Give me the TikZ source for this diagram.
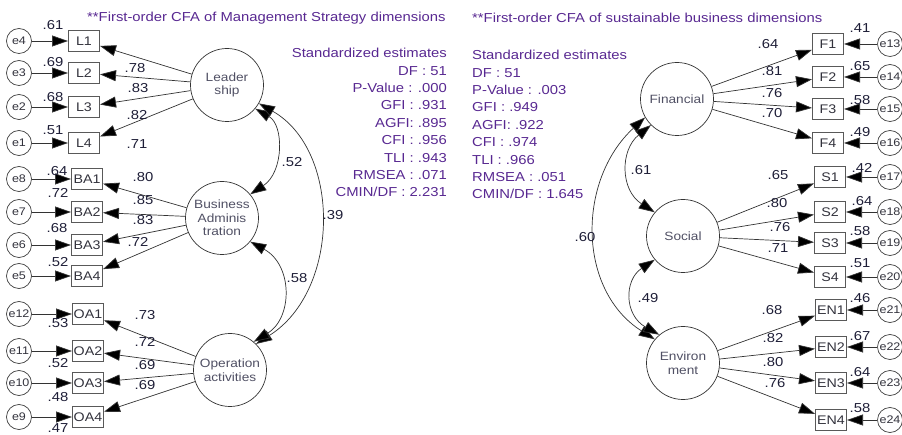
\documentclass[tikz,border=0pt]{standalone}
\usepackage{fontspec}
\setmainfont{Liberation Sans}[FakeStretch=1.14]
\usetikzlibrary{arrows.meta}
\definecolor{ttl}{RGB}{88,40,145}
\definecolor{numc}{RGB}{30,30,55}
\definecolor{latc}{RGB}{80,80,100}
\definecolor{obsc}{RGB}{50,50,60}
\begin{document}
\begin{tikzpicture}[x=1pt,y=-1pt,
  lat/.style={circle,draw=black!80,line width=0.7pt,minimum size=73pt,inner sep=0pt,align=center,font=\fontsize{12}{13.5}\selectfont,text=latc},
  obs/.style={rectangle,draw=black!65,line width=1pt,minimum width=31pt,minimum height=21pt,inner sep=1pt,font=\fontsize{12.5}{14}\selectfont,text=obsc},
  err/.style={circle,draw=black!75,line width=0.7pt,minimum size=25pt,inner sep=0pt,font=\fontsize{11}{12}\selectfont,text=obsc},
  ld/.style={-{Triangle[length=16pt,width=11pt,fill=black]},line width=0.7pt,draw=black!80},
  cov/.style={{Triangle[length=16pt,width=11pt,fill=black]}-{Triangle[length=16pt,width=11pt,fill=black]},line width=0.7pt,draw=black!80},
  num/.style={font=\fontsize{13}{14}\selectfont,text=numc,inner sep=0pt},
  ttlsty/.style={font=\fontsize{13}{17.4}\selectfont,text=ttl,inner sep=0pt}
]
\useasboundingbox (0,0) rectangle (902,435);

% ---------- titles & stats ----------
\node[ttlsty,anchor=west] (t1) at (87,18) {**First-order CFA of Management Strategy dimensions};
\node[ttlsty,anchor=west] (t2) at (472,18) {**First-order CFA of sustainable business dimensions};
\node[ttlsty,anchor=north east,align=right] (s1) at (447,48) {Standardized estimates\\DF : 51\\P-Value : .000\\GFI : .931\\AGFI: .895\\CFI : .956\\TLI : .943\\RMSEA : .071\\CMIN/DF : 2.231};
\node[ttlsty,anchor=north west,align=left] (s2) at (472,50) {Standardized estimates\\DF : 51\\P-Value : .003\\GFI : .949\\AGFI: .922\\CFI : .974\\TLI : .966\\RMSEA : .051\\CMIN/DF : 1.645};

% ---------- left latents ----------
\node[lat] (Lead) at (227,85) {Leader\\ship};
\node[lat] (BA) at (222,218) {Business\\Adminis\\tration};
\node[lat] (OA) at (230,370) {Operation\\activities};

% observed left
\node[obs] (L1) at (84,41) {L1};
\node[obs] (L2) at (84,73) {L2};
\node[obs] (L3) at (84,107) {L3};
\node[obs] (L4) at (84,143) {L4};
\node[obs] (BA1) at (87,179) {BA1};
\node[obs] (BA2) at (87,212) {BA2};
\node[obs] (BA3) at (87,245) {BA3};
\node[obs] (BA4) at (87,276) {BA4};
\node[obs] (OA1) at (88,314) {OA1};
\node[obs] (OA2) at (88,351) {OA2};
\node[obs] (OA3) at (88,383) {OA3};
\node[obs] (OA4) at (88,417) {OA4};

% errors left
\node[err] (e4) at (19,41) {e4};
\node[err] (e3) at (19,73) {e3};
\node[err] (e2) at (19,107) {e2};
\node[err] (e1) at (19,143) {e1};
\node[err] (e8) at (19,179) {e8};
\node[err] (e7) at (19,212) {e7};
\node[err] (e6) at (19,245) {e6};
\node[err] (e5) at (19,276) {e5};
\node[err] (e12) at (19,314) {e12};
\node[err] (e11) at (19,351) {e11};
\node[err] (e10) at (19,383) {e10};
\node[err] (e9) at (19,417) {e9};

\foreach \e/\b in {e4/L1,e3/L2,e2/L3,e1/L4,e8/BA1,e7/BA2,e6/BA3,e5/BA4,e12/OA1,e11/OA2,e10/OA3,e9/OA4}
  \draw[ld] (\e) -- (\b);
\foreach \b in {L1,L2,L3,L4} \draw[ld] (Lead) -- (\b);
\foreach \b in {BA1,BA2,BA3,BA4} \draw[ld] (BA) -- (\b);
\foreach \b in {OA1,OA2,OA3,OA4} \draw[ld] (OA) -- (\b);

% covariances left
\draw[cov] (Lead.-40) .. controls (284,125) and (284,172) .. (BA.40);
\draw[cov] (Lead.-30) .. controls (341,150) and (341,290) .. (OA.45);
\draw[cov] (BA.-40) .. controls (293,265) and (293,318) .. (OA.50);

% labels left
\node[num] (n1) at (53,25) {.61};
\node[num] (n2) at (53,62) {.69};
\node[num] (n3) at (53,97) {.68};
\node[num] (n4) at (53,130) {.51};
\node[num] (n5) at (135,68) {.78};
\node[num] (n6) at (138,88) {.83};
\node[num] (n7) at (137,115) {.82};
\node[num] (n8) at (137,144) {.71};
\node[num] (n9) at (57,171) {.64};
\node[num] (n10) at (58,193) {.72};
\node[num] (n11) at (57,228) {.68};
\node[num] (n12) at (58,262) {.52};
\node[num] (n13) at (143,177) {.80};
\node[num] (n14) at (143,200) {.85};
\node[num] (n15) at (143,220) {.83};
\node[num] (n16) at (138,242) {.72};
\node[num] (n17) at (58,323) {.53};
\node[num] (n18) at (58,363) {.52};
\node[num] (n19) at (58,397) {.48};
\node[num] (n20) at (58,428) {.47};
\node[num] (n21) at (145,315) {.73};
\node[num] (n22) at (145,342) {.72};
\node[num] (n23) at (145,365) {.69};
\node[num] (n24) at (145,385) {.69};
\node[num] (c1) at (292,162) {.52};
\node[num] (c2) at (333,215) {.39};
\node[num] (c3) at (297,278) {.58};

% ---------- right latents ----------
\node[lat] (Fin) at (677,99) {Financial};
\node[lat] (Soc) at (683,236) {Social};
\node[lat] (Env) at (683,363) {Environ\\ment};

\node[obs] (F1) at (828,44) {F1};
\node[obs] (F2) at (828,77) {F2};
\node[obs] (F3) at (828,109) {F3};
\node[obs] (F4) at (828,143) {F4};
\node[obs] (S1) at (830,177) {S1};
\node[obs] (S2) at (830,212) {S2};
\node[obs] (S3) at (830,243) {S3};
\node[obs] (S4) at (830,277) {S4};
\node[obs] (EN1) at (831,310) {EN1};
\node[obs] (EN2) at (831,347) {EN2};
\node[obs] (EN3) at (831,383) {EN3};
\node[obs] (EN4) at (831,420) {EN4};

\node[err] (e13) at (890,44) {e13};
\node[err] (e14) at (890,77) {e14};
\node[err] (e15) at (890,109) {e15};
\node[err] (e16) at (890,143) {e16};
\node[err] (e17) at (890,177) {e17};
\node[err] (e18) at (890,212) {e18};
\node[err] (e19) at (890,243) {e19};
\node[err] (e20) at (890,277) {e20};
\node[err] (e21) at (890,310) {e21};
\node[err] (e22) at (890,347) {e22};
\node[err] (e23) at (890,383) {e23};
\node[err] (e24) at (890,420) {e24};

\foreach \e/\b in {e13/F1,e14/F2,e15/F3,e16/F4,e17/S1,e18/S2,e19/S3,e20/S4,e21/EN1,e22/EN2,e23/EN3,e24/EN4}
  \draw[ld] (\e) -- (\b);
\foreach \b in {F1,F2,F3,F4} \draw[ld] (Fin) -- (\b);
\foreach \b in {S1,S2,S3,S4} \draw[ld] (Soc) -- (\b);
\foreach \b in {EN1,EN2,EN3,EN4} \draw[ld] (Env) -- (\b);

\draw[cov] (Fin.-135) .. controls (620,150) and (620,190) .. (Soc.140);
\draw[cov] (Fin.-150) .. controls (577,180) and (577,290) .. (Env.140);
\draw[cov] (Soc.-140) .. controls (624,280) and (624,315) .. (Env.130);

\node[num] (r1) at (860,28) {.41};
\node[num] (r2) at (860,66) {.65};
\node[num] (r3) at (860,100) {.58};
\node[num] (r4) at (860,132) {.49};
\node[num] (r5) at (862,168) {.42};
\node[num] (r6) at (862,201) {.64};
\node[num] (r7) at (860,231) {.58};
\node[num] (r8) at (860,263) {.51};
\node[num] (r9) at (860,298) {.46};
\node[num] (r10) at (860,336) {.67};
\node[num] (r11) at (860,372) {.64};
\node[num] (r12) at (860,408) {.58};
\node[num] (l1) at (768,44) {.64};
\node[num] (l2) at (772,71) {.81};
\node[num] (l3) at (772,93) {.76};
\node[num] (l4) at (772,113) {.70};
\node[num] (l5) at (778,175) {.65};
\node[num] (l6) at (777,203) {.80};
\node[num] (l7) at (780,227) {.76};
\node[num] (l8) at (778,248) {.71};
\node[num] (l9) at (772,310) {.68};
\node[num] (l10) at (773,338) {.82};
\node[num] (l11) at (773,362) {.80};
\node[num] (l12) at (775,383) {.76};
\node[num] (c4) at (641,170) {.61};
\node[num] (c5) at (585,237) {.60};
\node[num] (c6) at (648,298) {.49};
\end{tikzpicture}
\end{document}
